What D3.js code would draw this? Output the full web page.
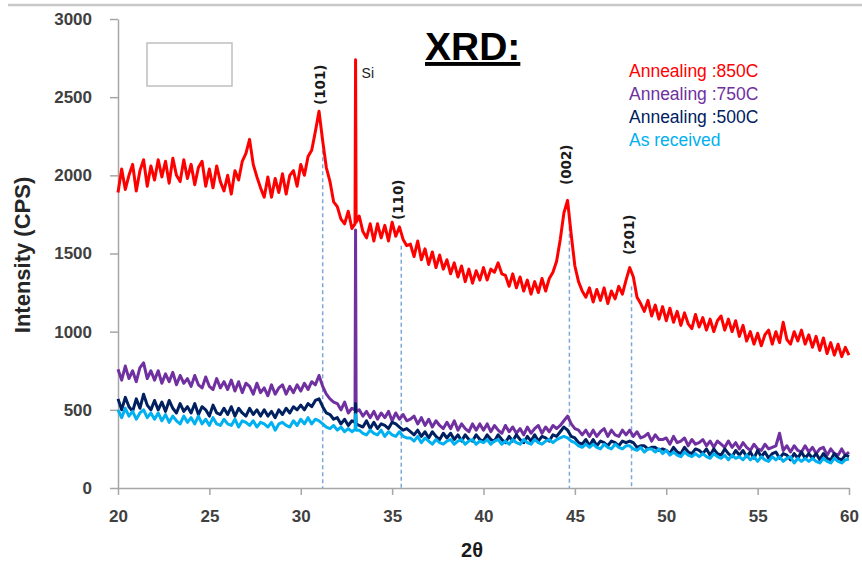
<!DOCTYPE html>
<html><head><meta charset="utf-8">
<script src="https://cdn.jsdelivr.net/npm/d3@7"></script>
<style>body{margin:0;background:#fff} svg{display:block}</style>
</head><body><svg id="c" width="862" height="565"></svg>
<script>
// ---------- data ----------
const xTicks = [20, 25, 30, 35, 40, 45, 50, 55, 60];
const yTicks = [0, 500, 1000, 1500, 2000, 2500, 3000];
const scanStart = 20, scanStep = 0.2;   // 2θ sampling of the scans

const seriesNames  = ["Annealing :850C", "Annealing :750C", "Annealing :500C", "As received"];
const seriesColors = ["#ff0000", "#7030a0", "#002060", "#00b0f0"];

const anneal850 = [
 1890,2040,1910,2000,2070,1900,2030,2100,1930,2060,
 1970,2100,1990,2090,1950,2110,2000,1960,2100,1980,
 2070,1940,2050,2090,1930,2040,1920,2060,1960,1900,
 2000,1880,2030,1970,2090,2140,2230,2070,1990,1920,
 1860,1990,1860,1980,1890,2010,1880,2000,2030,1930,
 2070,2000,2120,2160,2280,2410,2220,2050,1960,1830,
 1800,1720,1690,1770,1660,2740,1740,1640,1600,1690,
 1580,1690,1600,1680,1580,1700,1610,1670,1590,1550,
 1560,1480,1580,1460,1530,1430,1510,1410,1490,1400,
 1460,1370,1440,1350,1420,1320,1400,1310,1390,1330,
 1410,1330,1400,1380,1440,1370,1360,1290,1370,1280,
 1350,1260,1330,1240,1320,1250,1340,1260,1340,1380,
 1450,1590,1760,1840,1620,1420,1320,1260,1220,1280,
 1190,1270,1200,1280,1180,1260,1210,1290,1240,1330,
 1410,1350,1220,1180,1130,1200,1100,1170,1080,1160,
 1070,1150,1060,1130,1040,1120,1050,1020,1110,1030,
 1090,1010,1080,1000,1070,1100,1010,1080,1000,1070,
 970,1040,940,1000,920,990,910,980,1010,920,
 1000,930,1060,950,920,1000,940,1010,920,980,
 900,970,880,960,860,930,850,920,840,900,
 850];

const anneal750 = [
 760,690,780,700,750,680,770,800,700,750,
 690,750,670,730,680,740,660,720,670,700,
 650,720,660,640,710,650,630,700,640,680,
 630,690,620,680,610,670,650,600,670,610,
 640,590,660,600,640,660,600,650,610,660,
 620,670,630,680,660,720,650,600,570,550,
 540,500,550,480,510,1650,500,460,490,450,
 490,440,480,450,490,430,480,440,470,430,
 440,460,410,450,400,440,390,430,400,380,
 420,380,430,370,410,380,360,410,370,410,
 370,410,360,400,370,350,400,360,390,350,
 380,340,390,350,380,400,350,390,360,400,
 380,400,430,460,410,380,370,340,370,330,
 370,330,360,380,330,370,340,330,370,340,
 370,330,360,320,330,350,300,340,310,310,
 320,280,330,290,300,320,270,310,280,290,
 310,270,300,260,300,280,260,300,260,290,
 250,290,260,240,280,250,240,280,250,260,
 270,350,240,270,230,270,240,230,270,230,
 260,220,250,260,210,250,220,210,250,210,
 230];

const anneal500 = [
 570,500,580,520,490,570,510,600,530,500,
 560,500,550,490,560,510,480,540,490,520,
 480,540,470,520,500,460,530,480,470,510,
 470,520,460,510,480,460,510,470,500,460,
 500,460,490,450,500,470,510,480,520,500,
 530,500,540,520,560,570,520,480,470,440,
 450,410,440,400,430,540,400,390,430,380,
 420,380,410,400,380,420,410,390,370,380,
 360,340,370,330,360,320,360,330,310,350,
 320,350,310,340,300,340,310,300,340,310,
 300,340,310,300,340,310,290,330,300,340,
 310,290,330,300,340,300,330,320,300,340,
 330,360,390,370,330,320,290,280,310,270,
 310,270,300,290,270,300,290,270,300,290,
 300,290,260,270,270,250,260,260,240,250,
 240,220,260,230,220,260,230,220,250,240,
 220,250,210,250,220,210,250,220,200,240,
 210,240,200,230,190,240,200,230,190,220,
 230,190,220,210,180,220,190,230,190,220,
 190,220,180,220,190,180,220,190,180,210,
 200];

const asReceived = [
 500,450,510,460,490,440,480,500,450,480,
 440,480,430,470,420,460,430,410,460,420,
 450,410,460,410,440,400,450,410,400,440,
 410,400,440,390,430,420,400,430,390,420,
 410,390,420,370,410,420,400,390,430,400,
 440,410,450,410,440,430,410,390,380,400,
 370,390,360,380,360,470,370,350,340,370,
 350,340,370,330,360,340,330,360,330,320,
 320,300,330,290,320,300,280,310,290,280,
 300,310,280,300,310,280,300,310,280,300,
 290,310,280,300,310,280,300,280,310,290,
 280,310,290,280,310,290,280,300,310,290,
 310,320,330,320,300,290,270,260,280,260,
 280,260,250,280,260,250,280,260,250,270,
 270,250,240,260,230,250,250,230,250,220,
 240,210,230,210,200,230,210,200,220,200,
 220,200,190,220,200,190,210,180,210,190,
 200,180,210,180,200,170,200,180,170,200,
 180,200,170,190,200,160,190,170,190,170,
 190,170,160,190,170,160,190,170,160,180,
 185];

// extra samples on both sides of the narrow Si reflection (33.0°)
const siShoulderAngles = [32.97, 33.03];
const siShoulder850 = [1690, 1700];
const siShoulder750 = [500, 490];
const siShoulder500 = [420, 410];
const siShoulderRec = [375, 370];

const peakLabels      = ["(101)", "(110)", "(002)", "(201)"];
const peakAngles      = [31.2, 35.5, 44.7, 48.1];
const peakLineTops    = [2160, 1550, 1760, 1290];
const peakLabelBases  = [2450, 1714, 1938, 1490];

const siLabel = "Si", siAngle = 33.0, siLabelLevel = 2620;

// ---------- chart ----------
const svg = d3.select("#c");
const W = 862, H = 565;
const x = d3.scaleLinear().domain([20, 60]).range([118, 849]);
const y = d3.scaleLinear().domain([0, 3000]).range([488, 19]);
const FONT = "'Liberation Sans', Arial, sans-serif";

// top frame line
svg.append("line").attr("x1", 8).attr("x2", W).attr("y1", 5).attr("y2", 5)
  .attr("stroke", "#c8c8c8").attr("stroke-width", 2.5);

// axes
const axisColor = "#a6a6a6";
const gx = svg.append("g").attr("transform", `translate(0,${y(0)})`)
  .call(d3.axisBottom(x).tickValues(xTicks).tickSize(7).tickSizeOuter(0).tickPadding(15).tickFormat(d3.format("d")));
const gy = svg.append("g").attr("transform", `translate(${x(20)},0)`)
  .call(d3.axisLeft(y).tickValues(yTicks).tickSize(8).tickSizeOuter(0).tickPadding(18).tickFormat(d3.format("d")));
[gx, gy].forEach(g => {
  g.select(".domain").attr("stroke", axisColor).attr("stroke-width", 1.5);
  g.selectAll(".tick line").attr("stroke", axisColor).attr("stroke-width", 1.5);
  g.selectAll(".tick text").attr("font-family", FONT).attr("font-weight", "bold")
    .attr("font-size", 17).attr("fill", "#404040");
});

// axis titles
svg.append("text").attr("x", 472).attr("y", 557).attr("text-anchor", "middle")
  .attr("font-family", FONT).attr("font-weight", "bold").attr("font-size", 20).attr("fill", "#1a1a1a")
  .text("2θ");
svg.append("text").attr("transform", "translate(22,255) rotate(-90)")
  .attr("text-anchor", "middle").attr("dominant-baseline", "central")
  .attr("font-family", FONT).attr("font-weight", "bold").attr("font-size", 22).attr("fill", "#262626")
  .text("Intensity (CPS)");

// empty box (top-left)
svg.append("rect").attr("x", 147).attr("y", 43).attr("width", 85).attr("height", 43)
  .attr("fill", "none").attr("stroke", "#bfbfbf").attr("stroke-width", 1.5);

// title
svg.append("text").attr("x", 425).attr("y", 60)
  .attr("font-family", FONT).attr("font-weight", "bold").attr("font-size", 39)
  .attr("text-decoration", "underline").attr("fill", "#000").text("XRD:");

// dashed reference lines
peakAngles.forEach((a, i) => {
  svg.append("line").attr("x1", x(a)).attr("x2", x(a))
    .attr("y1", y(peakLineTops[i])).attr("y2", y(0))
    .attr("stroke", "#7ea7d8").attr("stroke-width", 1.5).attr("stroke-dasharray", "4,3");
});

// series
const seriesData = [anneal850, anneal750, anneal500, asReceived];
const shoulders = [siShoulder850, siShoulder750, siShoulder500, siShoulderRec];
const line = d3.line().x(d => x(d[0])).y(d => y(d[1]));
seriesData.forEach((vals, s) => {
  const pts = vals.map((v, i) => [scanStart + i * scanStep, v]);
  siShoulderAngles.forEach((a, k) => pts.push([a, shoulders[s][k]]));
  pts.sort((p, q) => p[0] - q[0]);
  svg.append("path").datum(pts).attr("d", line)
    .attr("fill", "none").attr("stroke", seriesColors[s])
    .attr("stroke-width", 3).attr("stroke-linejoin", "round");
});

// peak labels (rotated)
peakLabels.forEach((t, i) => {
  const px = x(peakAngles[i]) - 3, py = y(peakLabelBases[i]);
  svg.append("text").attr("transform", `translate(${px},${py}) rotate(-90)`)
    .attr("dominant-baseline", "central")
    .attr("font-family", "'DejaVu Sans', sans-serif").attr("font-weight", "bold")
    .attr("font-size", 13.5).attr("fill", "#1a1a1a").text(t);
});
svg.append("text").attr("x", x(siAngle) + 6).attr("y", y(siLabelLevel))
  .attr("font-family", FONT).attr("font-size", 14).attr("fill", "#1a1a1a").text(siLabel);

// legend
seriesNames.forEach((n, i) => {
  svg.append("text").attr("x", 629).attr("y", 77 + i * 23)
    .attr("font-family", FONT).attr("font-size", 17.5).attr("fill", seriesColors[i]).text(n);
});
</script>
</body></html>
